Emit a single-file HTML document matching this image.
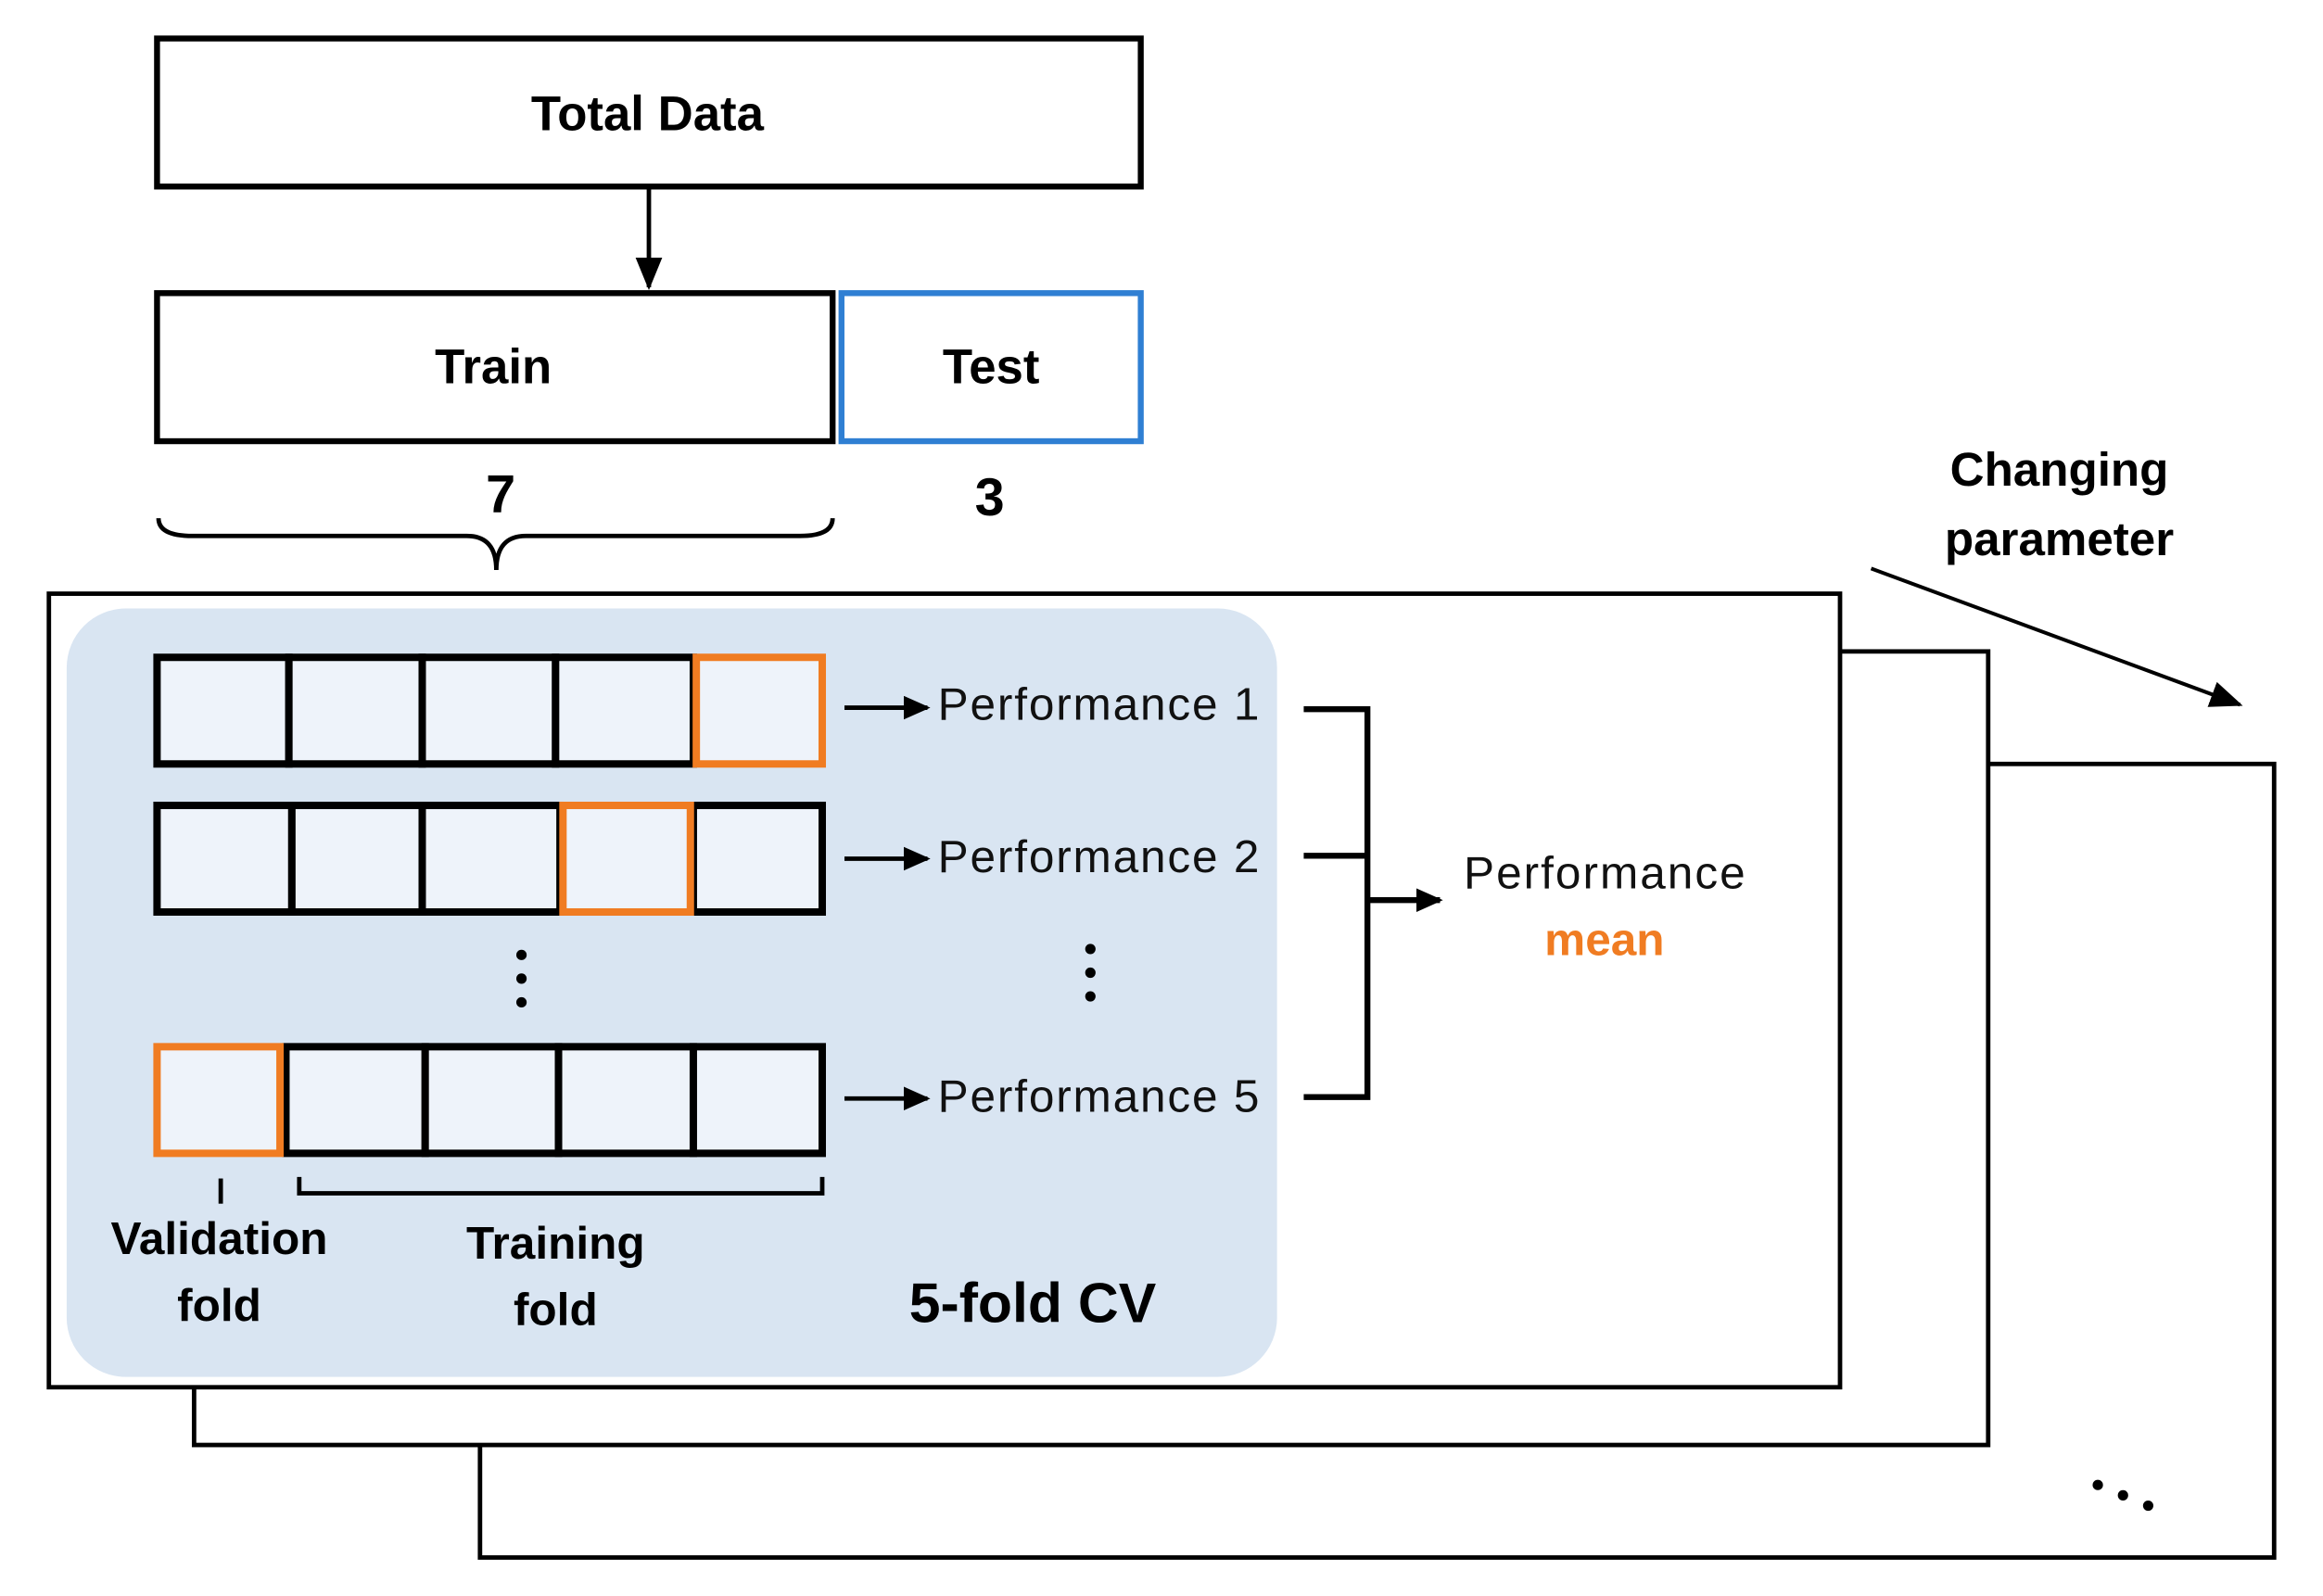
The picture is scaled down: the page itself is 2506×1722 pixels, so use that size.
<!DOCTYPE html>
<html><head><meta charset="utf-8"><style>
html,body{margin:0;padding:0;background:#fff;}
svg{display:block;}
text{font-family:"Liberation Sans",sans-serif;}
</style></head><body>
<svg width="2506" height="1722" viewBox="0 0 1568 1078" preserveAspectRatio="none" xmlns="http://www.w3.org/2000/svg">
<defs>
<marker id="ah" markerWidth="18" markerHeight="16" refX="16" refY="8" orient="auto" markerUnits="userSpaceOnUse">
<path d="M0,0 L18,8 L0,16 z" fill="#000"/></marker>
<marker id="ah2" markerWidth="22" markerHeight="18" refX="20" refY="9" orient="auto" markerUnits="userSpaceOnUse">
<path d="M0,0 L22,9 L0,18 z" fill="#000"/></marker>
</defs>
<rect x="0" y="0" width="1568" height="1078" fill="#fff"/>
<rect x="106" y="26" width="664" height="100" fill="#fff" stroke="#000" stroke-width="4"/>
<text x="437" y="88" font-size="33" font-weight="bold" text-anchor="middle">Total Data</text>
<line x1="438" y1="126" x2="438" y2="194" stroke="#000" stroke-width="3" marker-end="url(#ah2)"/>
<rect x="106" y="198" width="456" height="100" fill="#fff" stroke="#000" stroke-width="4"/>
<text x="333" y="259" font-size="33" font-weight="bold" text-anchor="middle">Train</text>
<rect x="568" y="198" width="202" height="100" fill="#fff" stroke="#2f7fd3" stroke-width="4"/>
<text x="669" y="259" font-size="33" font-weight="bold" text-anchor="middle">Test</text>
<text x="338" y="346" font-size="36" font-weight="bold" text-anchor="middle">7</text>
<text x="668" y="348" font-size="36" font-weight="bold" text-anchor="middle">3</text>
<path d="M107,350 Q107,362 130,362 L315,362 Q335,362 335,385 Q335,362 355,362 L540,362 Q562,362 562,350" fill="none" stroke="#000" stroke-width="3"/>
<rect x="324" y="516" width="1211" height="536" fill="#fff" stroke="#000" stroke-width="3"/>
<rect x="131" y="440" width="1211" height="536" fill="#fff" stroke="#000" stroke-width="3"/>
<rect x="33" y="401" width="1209" height="536" fill="#fff" stroke="#000" stroke-width="3"/>
<rect x="45" y="411" width="817" height="519" rx="40" fill="#d9e5f2"/>
<g stroke="#000" stroke-width="5" fill="#eef3fa">
<rect x="106" y="444" width="89" height="72"/><rect x="195" y="444" width="90" height="72"/><rect x="285" y="444" width="90" height="72"/><rect x="375" y="444" width="93" height="72"/>
<rect x="106" y="544" width="91" height="72"/><rect x="197" y="544" width="88" height="72"/><rect x="285" y="544" width="93" height="72"/><rect x="468" y="544" width="87" height="72"/>
<rect x="193" y="707" width="94" height="72"/><rect x="287" y="707" width="90" height="72"/><rect x="377" y="707" width="91" height="72"/><rect x="468" y="707" width="87" height="72"/>
</g>
<g stroke="#f07c22" stroke-width="5" fill="#eef3fa">
<rect x="470" y="444" width="85" height="72"/>
<rect x="380" y="544" width="86" height="72"/>
<rect x="106" y="707" width="83" height="72"/>
</g>
<g fill="#000"><circle cx="352" cy="645" r="3.5"/><circle cx="352" cy="661" r="3.5"/><circle cx="352" cy="677" r="3.5"/>
<circle cx="736" cy="641" r="3.5"/><circle cx="736" cy="657" r="3.5"/><circle cx="736" cy="673" r="3.5"/></g>
<g stroke="#000" stroke-width="3">
<line x1="570" y1="478" x2="626" y2="478" marker-end="url(#ah)"/>
<line x1="570" y1="580" x2="626" y2="580" marker-end="url(#ah)"/>
<line x1="570" y1="742" x2="626" y2="742" marker-end="url(#ah)"/>
</g>
<g font-size="31" fill="#111">
<text x="633" y="486" textLength="217">Performance 1</text>
<text x="633" y="589" textLength="217">Performance 2</text>
<text x="633" y="751" textLength="217">Performance 5</text>
</g>
<path d="M880,479 L923,479 L923,741 L880,741 M880,578 L923,578" fill="none" stroke="#000" stroke-width="4"/>
<line x1="923" y1="608" x2="972" y2="608" stroke="#000" stroke-width="4" marker-end="url(#ah)"/>
<text x="1083" y="600" font-size="31" text-anchor="middle" fill="#111" textLength="190">Performance</text>
<text x="1083" y="645" font-size="31" font-weight="bold" text-anchor="middle" fill="#f07c22">mean</text>
<line x1="149" y1="796" x2="149" y2="813" stroke="#000" stroke-width="3"/>
<text x="148" y="847" font-size="31" font-weight="bold" text-anchor="middle">Validation</text>
<text x="148" y="892" font-size="31" font-weight="bold" text-anchor="middle">fold</text>
<path d="M202,795 L202,806 L555,806 L555,795" fill="none" stroke="#000" stroke-width="3"/>
<text x="375" y="850" font-size="31" font-weight="bold" text-anchor="middle">Training</text>
<text x="375" y="895" font-size="31" font-weight="bold" text-anchor="middle">fold</text>
<text x="697" y="893" font-size="38" font-weight="bold" text-anchor="middle">5-fold CV</text>
<text x="1390" y="328" font-size="32" font-weight="bold" text-anchor="middle">Changing</text>
<text x="1390" y="375" font-size="32" font-weight="bold" text-anchor="middle">parameter</text>
<line x1="1263" y1="384" x2="1512" y2="476" stroke="#000" stroke-width="2.5" marker-end="url(#ah2)"/>
<g fill="#000"><circle cx="1416" cy="1003" r="3.5"/><circle cx="1433" cy="1010" r="3.5"/><circle cx="1450" cy="1017" r="3.5"/></g>
</svg>
</body></html>
